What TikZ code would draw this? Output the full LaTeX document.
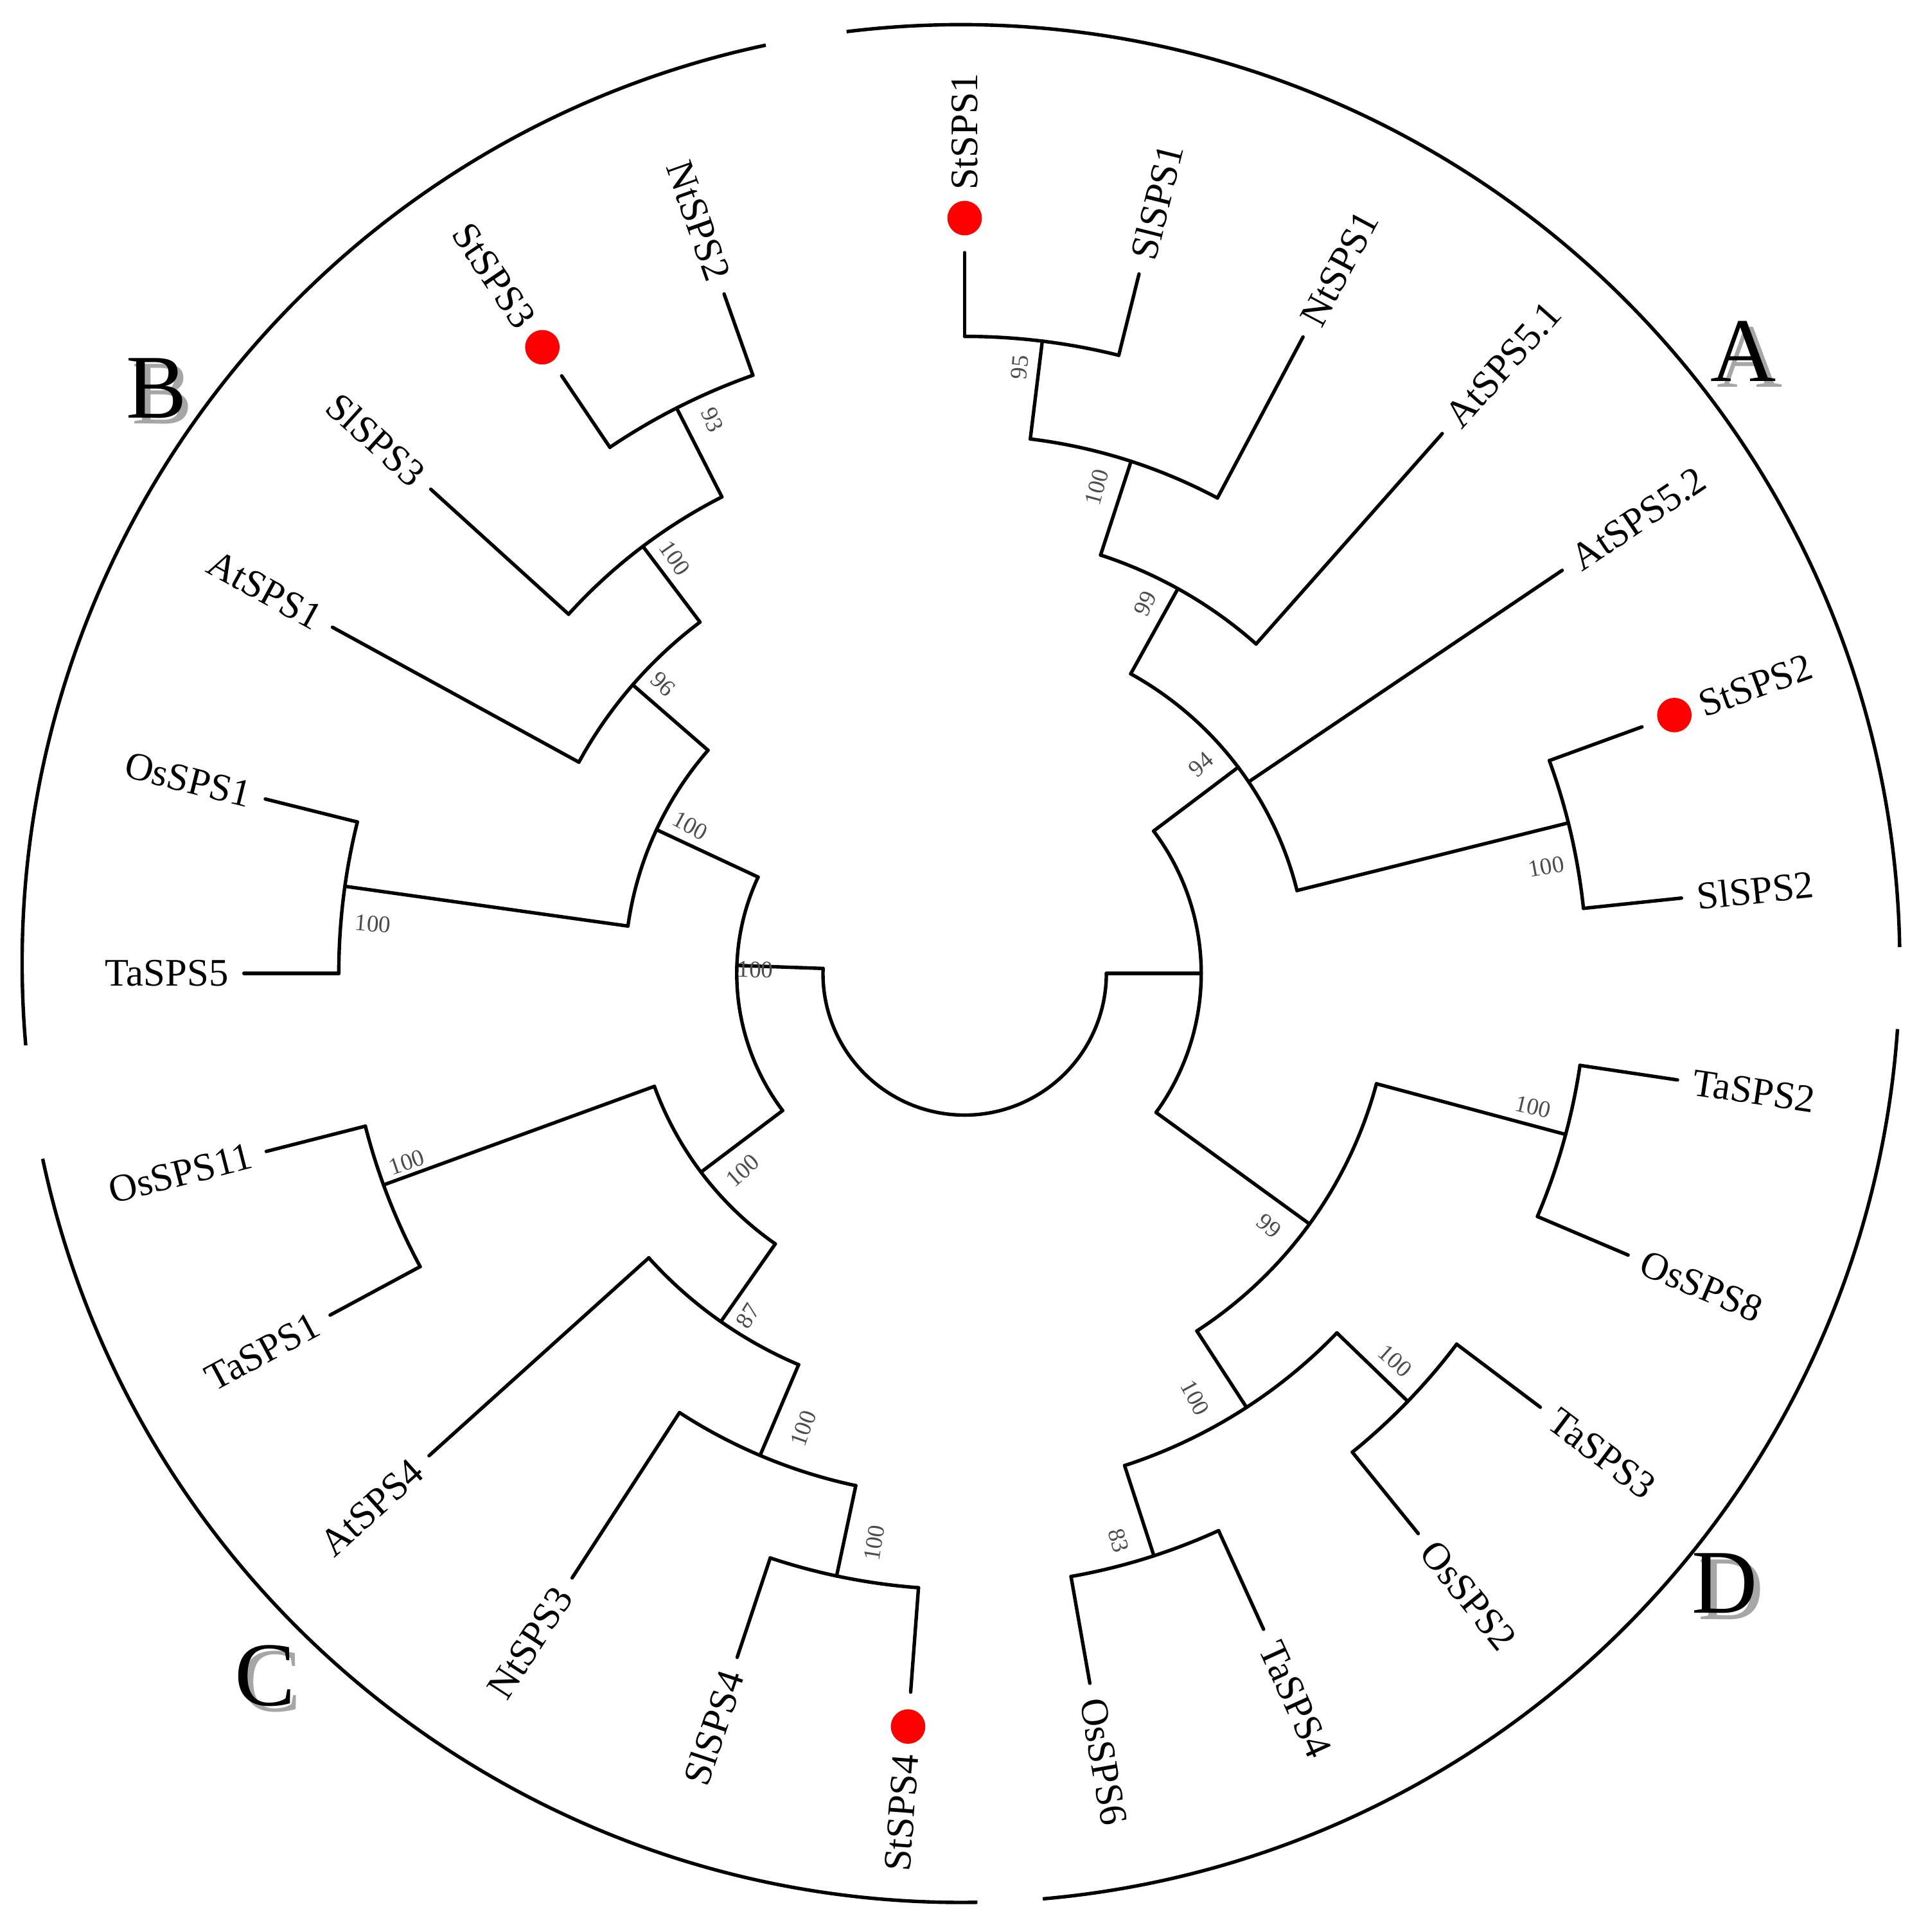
\documentclass[tikz,border=0pt]{standalone}
\usepackage{fontspec}
\setmainfont{Liberation Serif}
\usepackage{tikz}

\tikzset{
	branch/.style={line width=0.8pt, line cap=round},
	leaf/.style={font=\fontsize{9}{9}\selectfont, inner sep=0pt},
	boot/.style={font=\fontsize{5.5}{5.5}\selectfont, text=black!70, inner sep=0pt},
	group/.style={font=\fontsize{21}{21}\selectfont}
}

\begin{document}
\begin{tikzpicture}[x=0.01cm, y=0.01cm]
	\useasboundingbox (-783,-778) rectangle (767,790);
	
	% root and inner splits
	\draw[branch] (178:115) arc[start angle=178, end angle=360, radius=115];
	\draw[branch] (178:115) -- (178:185);
	\draw[branch] (0:115) -- (0:192);
	\draw[branch] (155:185) arc[start angle=155, end angle=217, radius=185];
	\draw[branch] (37:192) arc[start angle=37, end angle=-36, radius=192];
	
	% group A
	\draw[branch] (37:192) -- (37:278);
	\draw[branch] (61:278) arc[start angle=61, end angle=14, radius=278];
	\draw[branch] (61:278) -- (61:357);
	\draw[branch] (72:357) arc[start angle=72, end angle=48.5, radius=357];
	\draw[branch] (72:357) -- (72:437);
	\draw[branch] (83:437) arc[start angle=83, end angle=62, radius=437];
	\draw[branch] (83:437) -- (83:517);
	\draw[branch] (90:517) arc[start angle=90, end angle=76, radius=517];
	\draw[branch] (14:278) -- (14:505);
	\draw[branch] (20:505) arc[start angle=20, end angle=6, radius=505];
	
	% group D
	\draw[branch] (-36:192) -- (-36:346);
	\draw[branch] (-15:346) arc[start angle=-15, end angle=-57, radius=346];
	\draw[branch] (-15:346) -- (-15:505);
	\draw[branch] (-8.5:505) arc[start angle=-8.5, end angle=-23, radius=505];
	\draw[branch] (-57:346) -- (-57:420);
	\draw[branch] (-44:420) arc[start angle=-44, end angle=-72, radius=420];
	\draw[branch] (-44:420) -- (-44:500);
	\draw[branch] (-37:500) arc[start angle=-37, end angle=-51, radius=500];
	\draw[branch] (-72:420) -- (-72:497);
	\draw[branch] (-65.5:497) arc[start angle=-65.5, end angle=-80, radius=497];
	
	% group B
	\draw[branch] (155:185) -- (155:276);
	\draw[branch] (139:276) arc[start angle=139, end angle=172, radius=276];
	\draw[branch] (172:276) -- (172:508);
	\draw[branch] (166:508) arc[start angle=166, end angle=180, radius=508];
	\draw[branch] (139:276) -- (139:357);
	\draw[branch] (127:357) arc[start angle=127, end angle=151.3, radius=357];
	\draw[branch] (127:357) -- (127:434);
	\draw[branch] (117:434) arc[start angle=117, end angle=137.8, radius=434];
	\draw[branch] (117:434) -- (117:515);
	\draw[branch] (109.5:515) arc[start angle=109.5, end angle=124, radius=515];
	
	% group C
	\draw[branch] (217:185) -- (217:268);
	\draw[branch] (200:268) arc[start angle=200, end angle=235, radius=268];
	\draw[branch] (200:268) -- (200:502);
	\draw[branch] (194.3:502) arc[start angle=194.3, end angle=208.3, radius=502];
	\draw[branch] (235:268) -- (235:345);
	\draw[branch] (222:345) arc[start angle=222, end angle=247, radius=345];
	\draw[branch] (247:345) -- (247:425);
	\draw[branch] (237:425) arc[start angle=237, end angle=258, radius=425];
	\draw[branch] (258:425) -- (258:500);
	\draw[branch] (251.6:500) arc[start angle=251.6, end angle=265.7, radius=500];
	
	% leaves, right half
	\foreach \a/\p/\t/\d [count=\i] in {90/517/StSPS1/1, 76/517/SlSPS1/0, 62/437/NtSPS1/0,
		48.5/357/AtSPS5.1/0, 34/278/AtSPS5.2/0, 20/505/StSPS2/1, 6/505/SlSPS2/0,
		-8.5/505/TaSPS2/0, -23/505/OsSPS8/0, -37/500/TaSPS3/0, -51/500/OsSPS2/0,
		-65.5/497/TaSPS4/0, -80/497/OsSPS6/0} {
		\coordinate (r\i) at (\a:585);
		\draw[branch] (\a:\p) -- (r\i);
		\ifnum\d=1
			\fill[red] (\a:613) circle[radius=14];
			\node[leaf, anchor=west, rotate=\a] (rt\i) at (\a:635) {\t};
		\else
			\node[leaf, anchor=west, rotate=\a] (rt\i) at (\a:597) {\t};
		\fi
	}
	% leaves, left half
	\foreach \a/\p/\t/\d [count=\i] in {265.7/500/StSPS4/1, 251.6/500/SlSPS4/0, 237/425/NtSPS3/0,
		222/345/AtSPS4/0, 208.3/502/TaSPS1/0, 194.3/502/OsSPS11/0, 180/508/TaSPS5/0,
		166/508/OsSPS1/0, 151.3/357/AtSPS1/0, 137.8/434/SlSPS3/0, 124/515/StSPS3/1,
		109.5/515/NtSPS2/0} {
		\coordinate (l\i) at (\a:585);
		\draw[branch] (\a:\p) -- (l\i);
		\ifnum\d=1
			\fill[red] (\a:613) circle[radius=14];
			\node[leaf, anchor=east, rotate=\a-180] (lt\i) at (\a:635) {\t};
		\else
			\node[leaf, anchor=east, rotate=\a-180] (lt\i) at (\a:597) {\t};
		\fi
	}
	
	% bootstrap values
	\foreach \a/\r/\v in {84.8/494/95, 74.8/409/100, 64/334/99, 41.5/256/94,
		10.4/480/100, -13.2/474/100, -39.7/321/99, -61.5/392/100, -42/470/100,
		-74.8/477/83}
		\node[boot, rotate=\a] at (\a:\r) {\v};
	\foreach \a/\r/\v in {261/468/100, 250.5/392/100, 237.7/329/87, 221.6/241/100,
		198.7/478/100, 179/170/100, 175.2/482/100, 151.7/253/100, 136.2/339/96,
		124.9/411/100, 114.5/494/93}
		\node[boot, rotate=\a-180] at (\a:\r) {\v};
	
	% outer ring
	\begin{scope}[shift={(-3,8)}]
		\draw[line width=0.8pt] (97:762) arc[start angle=97, end angle=1, radius=762];
		\draw[line width=0.8pt] (-4:762) arc[start angle=-4, end angle=-85, radius=762];
		\draw[line width=0.8pt] (271:762) arc[start angle=271, end angle=192, radius=762];
		\draw[line width=0.8pt] (185:762) arc[start angle=185, end angle=102, radius=762];
	\end{scope}
	
	% group letters
	\foreach \x/\y/\g in {632/505/A, -656/475/B, -568/-570/C, 617/-495/D} {
		\node[group, text=black!35] at (\x+5,\y-5) {\g};
		\node[group] (g\g) at (\x,\y) {\g};
	}
	
\end{tikzpicture}
\end{document}
